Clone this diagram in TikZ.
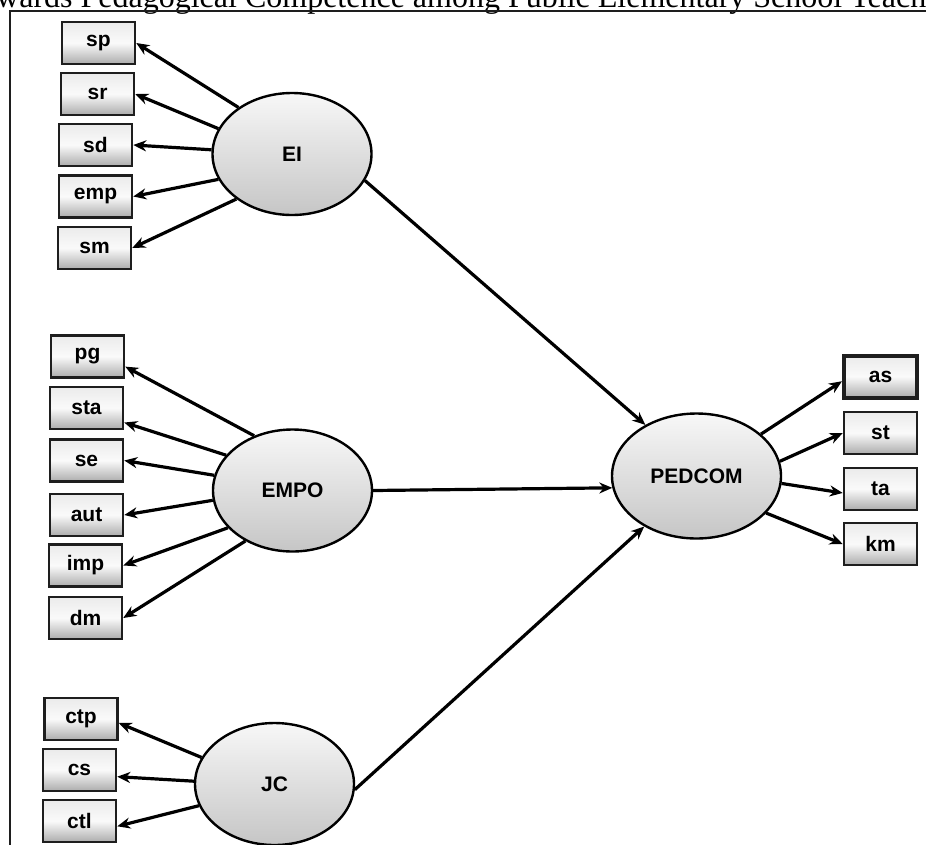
\documentclass[tikz,border=0pt]{standalone}
\usepackage{fontspec}
\setmainfont{Liberation Serif}
\setsansfont{Liberation Sans}
\usepackage{tikz}
\usetikzlibrary{arrows.meta,shapes.geometric}
\definecolor{edgec}{HTML}{1E1E1E}
\tikzset{
  ar/.style={-{Stealth[length=13pt,width=11pt]},line width=3.2pt,black},
  ind/.style={draw=edgec,line width=2.5pt,top color=gray!16,bottom color=gray!65,middle color=gray!4,minimum width=73pt,minimum height=42pt,inner sep=0pt,font=\fontsize{21}{24}\sffamily\bfseries},
  lat/.style={ellipse,draw=black,line width=2.4pt,top color=gray!6,bottom color=gray!45,minimum width=159pt,minimum height=122pt,inner sep=0pt,font=\fontsize{21}{24}\sffamily\bfseries}
}

\begin{document}
\begin{tikzpicture}[x=1pt,y=-1pt]
\useasboundingbox (0,0) rectangle (926,844);
\clip (0,0) rectangle (926,844);
\node[anchor=base west,inner sep=0pt,font=\fontsize{32}{36}\selectfont] (ttl) at (-4,7) {wards Pedagogical Competence among Public Elementary School Teach};
\draw[line width=2.2pt,edgec] (10,850) -- (10,11) -- (930,11);
% exogenous constructs
\node[lat] (EI) at (292,154) {EI};
\node[lat] (EMPO) at (292.5,490.5) {EMPO};
\node[lat] (JC) at (274.5,784) {JC};
\node[lat,minimum width=169pt,minimum height=125pt] (PEDCOM) at (696.5,476) {PEDCOM};
% indicators
\node[ind] (sp) at (98.5,43) {sp};
\node[ind] (sr) at (97.5,94) {sr};
\node[ind] (sd) at (95.5,145) {sd};
\node[ind] (emp) at (95.5,196.5) {emp};
\node[ind] (sm) at (94.5,248) {sm};
\node[ind] (pg) at (87.5,356.5) {pg};
\node[ind] (sta) at (86.5,408) {sta};
\node[ind] (se) at (86.5,460.5) {se};
\node[ind] (aut) at (86.5,515) {aut};
\node[ind] (imp) at (85.5,565.5) {imp};
\node[ind] (dm) at (85.5,618) {dm};
\node[ind] (ctp) at (81,719) {ctp};
\node[ind] (cs) at (79.5,770) {cs};
\node[ind] (ctl) at (79.5,821) {ctl};
\node[ind,line width=4pt] (as) at (880.5,376.5) {as};
\node[ind] (st) at (880.5,433) {st};
\node[ind] (ta) at (880.5,489) {ta};
\node[ind] (km) at (880.5,544) {km};
% loadings
\draw[ar] (EI.139.5) -- (sp.east);
\draw[ar] (EI.161) -- (sr.east);
\draw[ar] (EI.177) -- (sd.east);
\draw[ar] (EI.199) -- (emp.east);
\draw[ar] (EI.219.5) -- (sm.east);
\draw[ar] (EMPO.125) -- (pg.-15);
\draw[ar] (EMPO.152) -- (sta.-21);
\draw[ar] (EMPO.169) -- (se.east);
\draw[ar] (EMPO.187) -- (aut.east);
\draw[ar] (EMPO.210) -- (imp.east);
\draw[ar] (EMPO.227) -- (dm.east);
\draw[ar] (JC.160.5) -- (ctp.-6);
\draw[ar] (JC.178.6) -- (cs.-10);
\draw[ar] (JC.196) -- (ctl.-8);
\draw[ar] (PEDCOM.33) -- (as.187);
\draw[ar] (PEDCOM.10) -- (st.west);
\draw[ar] (PEDCOM.-5) -- (ta.186);
\draw[ar] (PEDCOM.-28) -- (km.west);
% paths
\draw[ar] (EI.-20.5) -- (PEDCOM.135);
\draw[ar] (EMPO.east) -- (PEDCOM.188);
\draw[ar] (JC.-4) -- (PEDCOM.224);
\end{tikzpicture}
\end{document}
